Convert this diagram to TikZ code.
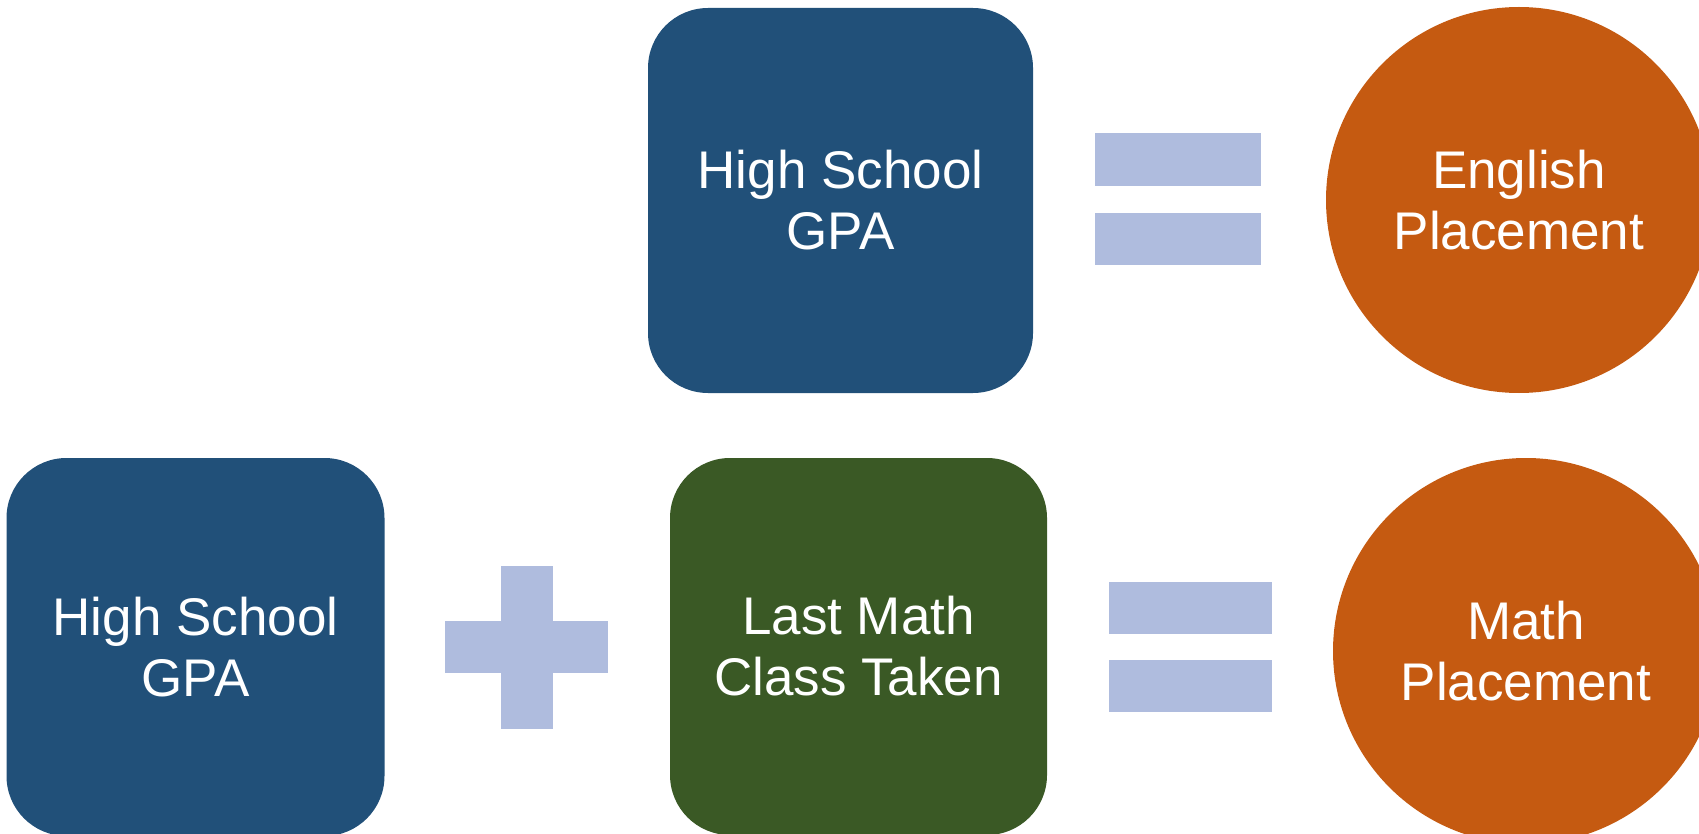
\documentclass[tikz,border=0pt]{standalone}
\usepackage{fontspec}
\setmainfont{Liberation Sans}
\definecolor{boxblue}{HTML}{215079}
\definecolor{boxgreen}{HTML}{3A5925}
\definecolor{resorange}{HTML}{C55A11}
\definecolor{oplight}{HTML}{AFBCDE}
\tikzset{
  sqbox/.style={rectangle, rounded corners=60pt, inner sep=0pt, text=white,
    align=center, font=\fontsize{53}{61}\selectfont},
  rescircle/.style={circle, fill=resorange, minimum size=386pt, inner sep=0pt,
    text=white, align=center, font=\fontsize{53}{61}\selectfont},
  opbar/.style={rectangle, fill=oplight, inner sep=0pt}
}
\begin{document}
\begin{tikzpicture}[x=1pt,y=-1pt]
\useasboundingbox (0,0) rectangle (1699,834);
\clip (0,0) rectangle (1699,834);
% top row
\node[sqbox, fill=boxblue, minimum width=385pt, minimum height=385pt] (gpa1) at (840.5,200.5) {High School\\GPA};
\node[opbar, minimum width=166pt, minimum height=53pt] (eqa1) at (1178,159.5) {};
\node[opbar, minimum width=166pt, minimum height=52pt] (eqa2) at (1178,239.5) {};
\node[rescircle] (eng) at (1519,200) {English\\Placement};
% bottom row
\node[sqbox, fill=boxblue, minimum width=378pt, minimum height=378pt] (gpa2) at (195.5,647) {High School\\GPA};
\node[opbar, minimum width=52pt, minimum height=163pt] (plusv) at (526.5,647) {};
\node[opbar, minimum width=163pt, minimum height=52pt] (plush) at (526.5,647) {};
\node[sqbox, fill=boxgreen, minimum width=377pt, minimum height=377pt] (lmc) at (858.5,646.5) {Last Math\\Class Taken};
\node[opbar, minimum width=163pt, minimum height=52pt] (eqb1) at (1190,608) {};
\node[opbar, minimum width=163pt, minimum height=52pt] (eqb2) at (1190,686) {};
\node[rescircle] (mth) at (1526,651) {Math\\Placement};
\end{tikzpicture}
\end{document}
